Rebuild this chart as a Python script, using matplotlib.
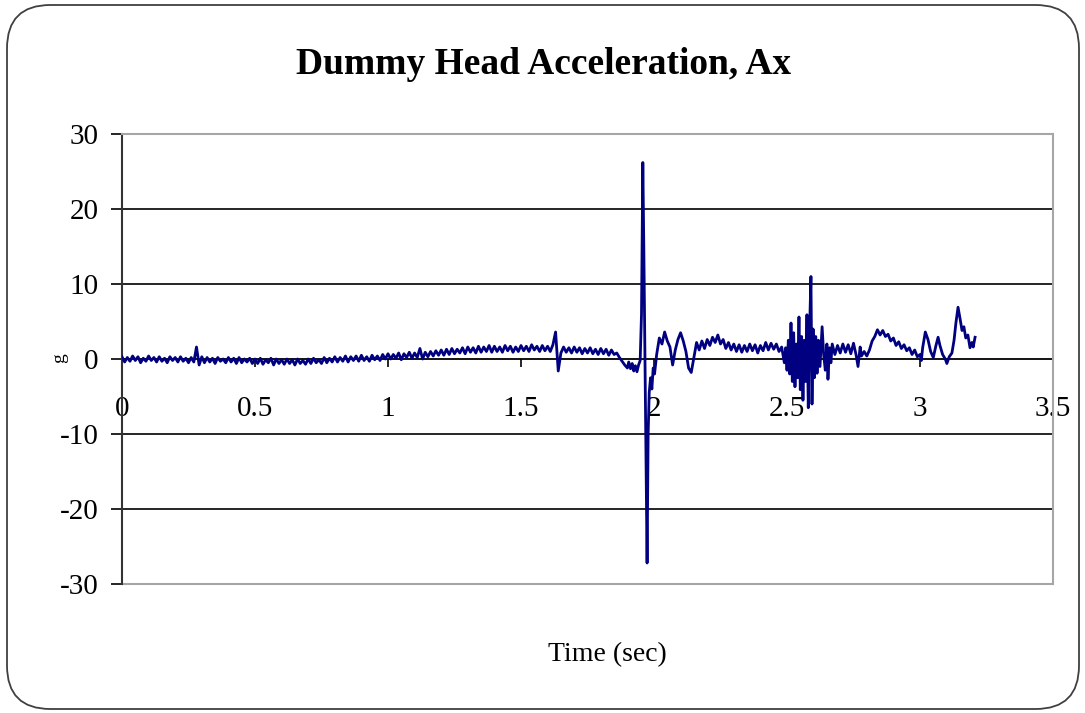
import numpy as np
import matplotlib
matplotlib.use('Agg')
import matplotlib.pyplot as plt
from matplotlib.patches import FancyBboxPatch

# quiet part of the record, sampled every 10 ms (g)
quiet_t = np.round(np.arange(0.0, 1.905, 0.01), 2)
quiet_g = [
    0.3, -0.4, 0.2, -0.3, 0.4, -0.2, 0.3, -0.5, 0.1, -0.3,
    0.4, -0.2, 0.2, -0.4, 0.3, -0.3, 0.1, -0.5, 0.3, -0.2,
    0.2, -0.4, 0.3, -0.3, 0.1, -0.5, 0.2, -0.4, 1.6, -0.8,
    0.3, -0.5, 0.2, -0.4, 0.1, -0.6, 0.2, -0.3, 0.0, -0.5,
    0.2, -0.4, 0.1, -0.6, 0.2, -0.5, 0.0, -0.4, 0.1, -0.6,
    0.0, -0.6, 0.1, -0.7, -0.1, -0.5, 0.1, -0.8, 0.0, -0.6,
    -0.1, -0.7, 0.0, -0.6, -0.1, -0.8, 0.0, -0.6, -0.2, -0.7,
    0.0, -0.6, 0.1, -0.5, -0.1, -0.6, 0.2, -0.5, 0.1, -0.4,
    0.3, -0.4, 0.2, -0.3, 0.4, -0.4, 0.3, -0.2, 0.4, -0.3,
    0.5, -0.2, 0.3, -0.3, 0.5, -0.1, 0.4, -0.2, 0.6, 0.0,
    0.7, 0.0, 0.6, 0.1, 0.8, -0.1, 0.7, 0.2, 0.9, 0.1,
    0.8, 0.2, 1.4, 0.0, 0.9, 0.3, 1.0, 0.4, 1.1, 0.5,
    1.2, 0.5, 1.3, 0.6, 1.4, 0.7, 1.3, 0.8, 1.5, 0.7,
    1.6, 0.9, 1.5, 0.8, 1.7, 0.9, 1.6, 1.0, 1.8, 0.9,
    1.7, 1.0, 1.6, 0.9, 1.8, 1.1, 1.7, 0.9, 1.6, 1.0,
    1.8, 1.1, 1.7, 1.0, 1.9, 1.2, 1.7, 1.0, 1.8, 1.1,
    1.7, 1.0, 1.9, 3.6, -1.6, 0.8, 1.6, 0.9, 1.5, 0.8,
    1.6, 0.9, 1.5, 0.7, 1.4, 0.8, 1.5, 0.7, 1.3, 0.6,
    1.4, 0.7, 1.3, 0.5, 1.2, 0.6, 0.8, 0.2, -0.3, -0.8,
    -1.2,
]

# head impact
impact_t = [1.905, 1.912, 1.918, 1.924, 1.930, 1.936, 1.942, 1.948, 1.953, 1.958,
            1.962, 1.966, 1.970, 1.974, 1.978, 1.982, 1.987, 1.992, 1.997, 2.002]
impact_g = [-0.4, -1.3, -0.6, -1.6, -0.9, -1.7, -0.8, -0.2, 6.0, 26.2,
            14.0, 0.5, -14.0, -27.2, -10.0, -4.5, -2.5, -4.0, -1.2, -2.0]

# rebound after impact, 10 ms steps
rebound_t = np.round(np.arange(2.01, 2.485, 0.01), 2)
rebound_g = [
    0.6, 2.8, 2.0, 3.6, 2.4, 1.6, -0.8, 1.2, 2.6, 3.5,
    2.4, 1.0, -1.2, -1.8, 0.2, 2.2, 1.2, 2.4, 1.4, 2.6,
    1.8, 2.9, 2.2, 3.2, 2.0, 2.6, 1.4, 2.2, 1.2, 2.0,
    1.0, 1.9, 0.9, 1.8, 1.0, 2.0, 1.1, 1.9, 0.8, 1.8,
    1.1, 2.2, 1.2, 2.1, 1.3, 2.0, 1.0, 1.6,
]

# second contact burst
burst_t = [2.490, 2.495, 2.500, 2.505, 2.510, 2.515, 2.520, 2.525, 2.530, 2.535,
           2.540, 2.545, 2.550, 2.555, 2.560, 2.565, 2.570, 2.575, 2.580, 2.585,
           2.590, 2.594, 2.598, 2.603, 2.608, 2.613, 2.618, 2.624, 2.632, 2.638,
           2.644, 2.650, 2.654, 2.660, 2.665]
burst_g = [-0.5, 1.5, -1.5, 2.5, -2.0, 4.8, -3.0, 3.5, -3.7, 2.0,
           -2.5, 5.6, -4.1, 3.0, -5.5, 2.5, -3.0, 5.9, -6.5, 4.0,
           11.0, -6.0, 4.0, -2.5, 3.0, -1.9, 2.5, -1.0, 4.3, 0.5,
           -1.5, 2.0, -2.7, 1.5, -0.5]

# tail of the record
tail_t = [2.67, 2.68, 2.69, 2.70, 2.71, 2.72, 2.73, 2.74, 2.75, 2.76,
          2.767, 2.775, 2.78, 2.79, 2.80, 2.81, 2.82, 2.83, 2.84, 2.85,
          2.86, 2.87, 2.88, 2.89, 2.90, 2.91, 2.92, 2.93, 2.94, 2.95,
          2.96, 2.97, 2.98, 2.99, 3.00, 3.005, 3.01, 3.02, 3.03, 3.04,
          3.05, 3.06, 3.068, 3.075, 3.085, 3.095, 3.101, 3.11, 3.12, 3.128,
          3.135, 3.143, 3.15, 3.158, 3.165, 3.172, 3.18, 3.188, 3.195, 3.20,
          3.207]
tail_g = [2.0, 0.6, 1.8, 0.8, 2.0, 0.9, 1.9, 0.7, 2.1, 0.5,
          -1.0, 1.6, 0.4, 1.0, 0.4, 1.2, 2.4, 3.0, 3.9, 3.2,
          3.8, 3.0, 3.3, 2.4, 2.8, 1.8, 2.3, 1.4, 1.9, 1.1,
          1.5, 0.6, 1.2, 0.3, 0.6, -0.2, 1.5, 3.6, 2.6, 1.0,
          0.2, 1.8, 2.9, 1.8, 0.6, 0.0, -0.6, 0.3, 0.8, 2.5,
          4.8, 6.9, 5.5, 3.8, 4.3, 2.8, 3.2, 1.5, 2.2, 1.6,
          2.9]

x_ticks = [0, 0.5, 1, 1.5, 2, 2.5, 3, 3.5]
x_tick_labels = ['0', '0.5', '1', '1.5', '2', '2.5', '3', '3.5']
y_ticks = [-30, -20, -10, 0, 10, 20, 30]
y_tick_labels = ['-30', '-20', '-10', '0', '10', '20', '30']

time_s = np.concatenate([quiet_t, impact_t, rebound_t, burst_t, tail_t])
accel_g = np.concatenate([quiet_g, impact_g, rebound_g, burst_g, tail_g])

plt.rcParams['font.family'] = ['Liberation Serif', 'DejaVu Serif']

W, H = 1085, 713
fig = plt.figure(figsize=(W / 100, H / 100), dpi=100)

# rounded chart border
fig.patches.append(FancyBboxPatch((7 / W, 4 / H), 1072 / W, 704 / H,
                                  boxstyle='round,pad=0,rounding_size=0.04',
                                  transform=fig.transFigure, fill=False,
                                  edgecolor='#404040', lw=1.3, mutation_aspect=W / H))

ax = fig.add_axes([122 / W, 1 - 584 / H, 931 / W, 450 / H])
ax.set_xlim(0, 3.5)
ax.set_ylim(-30, 30)

for yv in [-20, -10, 10, 20]:
    ax.axhline(yv, color='black', lw=1.2, zorder=1)

ax.plot(time_s, accel_g, color='#000080', lw=2.0, zorder=3)

gray = '#a6a6a6'
ax.spines['top'].set_color(gray)
ax.spines['right'].set_color(gray)
ax.spines['top'].set_linewidth(1.5)
ax.spines['right'].set_linewidth(1.5)
ax.spines['left'].set_color('#333333')
ax.spines['left'].set_linewidth(1.5)
ax.spines['bottom'].set_position(('data', 0))
ax.spines['bottom'].set_color('black')
ax.spines['bottom'].set_linewidth(1.3)
ax.spines['bottom'].set_zorder(2)
ax.plot([0, 1], [0, 0], transform=ax.transAxes, color=gray, lw=1.5, clip_on=False)

ax.set_xticks(x_ticks)
ax.set_xticklabels(x_tick_labels)
ax.set_yticks(y_ticks)
ax.set_yticklabels(y_tick_labels)
ax.tick_params(axis='x', direction='out', length=6, width=1.2, pad=21, labelsize=21)
ax.tick_params(axis='y', direction='out', length=8, width=1.2, pad=9, labelsize=21)

fig.text(544 / W, 1 - 65 / H, 'Dummy Head Acceleration, Ax', ha='center', va='center',
         fontsize=27, fontweight='bold')
fig.text(607 / W, 1 - 655 / H, 'Time (sec)', ha='center', va='center', fontsize=20)
fig.text(60 / W, 1 - 358 / H, 'g', ha='center', va='center', rotation=90, fontsize=14)

fig.savefig('out.png', dpi=100)
